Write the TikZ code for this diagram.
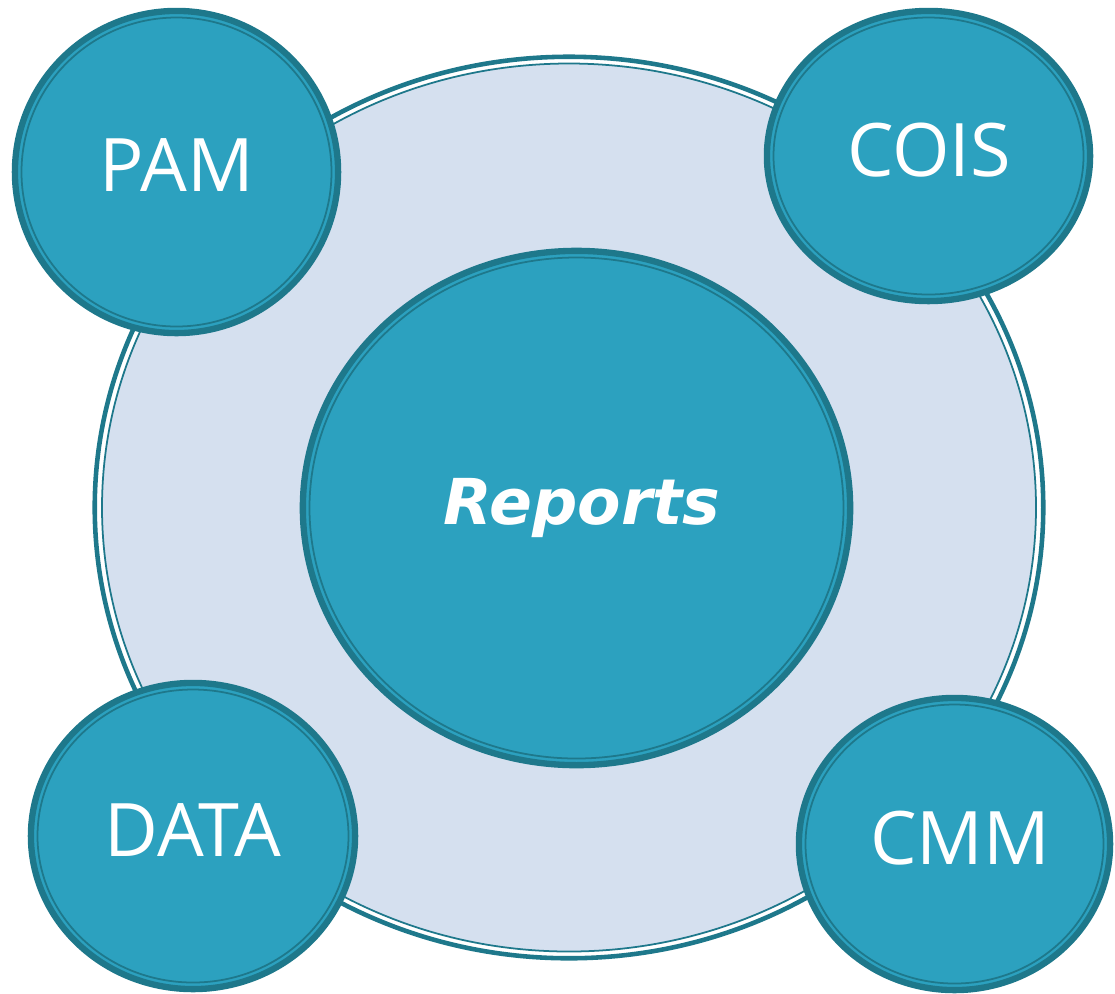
\documentclass[tikz,border=0pt]{standalone}
\usepackage{fontspec}
\setmainfont{Open Sans}
\newfontfamily\repfont{DejaVu Sans}
\usetikzlibrary{shapes.geometric}

\definecolor{tealfill}{HTML}{2CA1BF}
\definecolor{tealline}{HTML}{1E788B}
\definecolor{ringfill}{HTML}{D5E0EF}

\begin{document}
\begin{tikzpicture}[x=0.01cm, y=-0.01cm,
    bubble/.style={ellipse, draw=tealline, fill=tealfill, line width=1.8pt, inner sep=0pt, text=white, font=\fontsize{21}{24}\selectfont},
    rim/.style={draw=tealline, line width=0.5pt}]
    \useasboundingbox (0,0) rectangle (1115,993);
    % outer ring
    \node[ellipse, draw=tealline, fill=white, line width=1.3pt, minimum width=9.48cm, minimum height=9.01cm] (ring) at (569,507.5) {};
    \draw[rim, fill=ringfill] (ring.center) ellipse [x radius=467, y radius=444];
    % centre
    \node[bubble, minimum width=5.47cm, minimum height=5.14cm] (reports) at (576.5,508) {};
    \draw[rim] (reports.center) ellipse [x radius=267, y radius=250.5];
    \node[text=white, font=\repfont\bfseries\itshape\fontsize{18}{21}\selectfont] (replabel) at (582,508) {Reports};
    % satellites
    \node[bubble, minimum width=3.23cm, minimum height=3.22cm] (pam) at (176.5,172) {};
    \draw[rim] (pam.center) ellipse [x radius=155, y radius=154.5];
    \node[text=white, font=\fontsize{21}{24}\selectfont] (pamlabel) at (177,165) {PAM};
    \node[bubble, minimum width=3.23cm, minimum height=2.90cm] (cois) at (928.5,156) {};
    \draw[rim] (cois.center) ellipse [x radius=155, y radius=138.5];
    \node[text=white, font=\fontsize{21}{24}\selectfont] (coislabel) at (929,150) {COIS};
    \node[bubble, minimum width=3.24cm, minimum height=3.06cm] (data) at (193,836) {};
    \draw[rim] (data.center) ellipse [x radius=155.5, y radius=146.5];
    \node[text=white, font=\fontsize{21}{24}\selectfont] (datalabel) at (193,830) {DATA};
    \node[bubble, minimum width=3.11cm, minimum height=2.92cm] (cmm) at (954.5,844) {};
    \draw[rim] (cmm.center) ellipse [x radius=149, y radius=139.5];
    \node[text=white, font=\fontsize{21}{24}\selectfont] (cmmlabel) at (960,838) {CMM};
\end{tikzpicture}
\end{document}
